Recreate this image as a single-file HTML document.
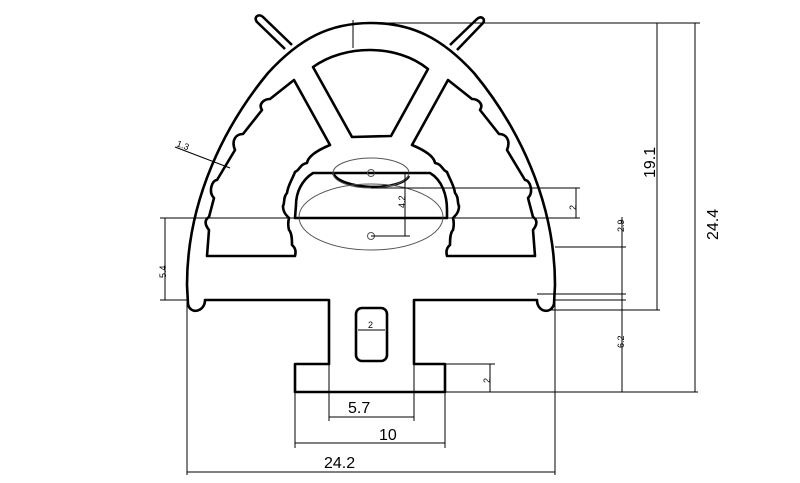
<!DOCTYPE html>
<html><head><meta charset="utf-8"><style>html,body{margin:0;padding:0;background:#fff}svg{display:block}</style></head>
<body>
<svg width="800" height="483" viewBox="0 0 800 483" xmlns="http://www.w3.org/2000/svg" font-family="Liberation Sans, sans-serif">
<g fill="none" stroke="#000" stroke-width="2.6" stroke-linejoin="round">
<path d="M205,300 C205,312 190,315 188,304 L187,285 C187,200 225,125 268,73 C300,38 330,23 371,23 C412,23 442,38 474,73 C517,125 555,200 555,285 L554,304 C551,315 537,312 537,300 L414,300 L414,364 L445,364 L445,392 L295,392 L295,364 L329,364 L329,300 Z"/>
<path d="M285,49 L257,22 C253,17 259,13 263,17 L292,45"/>
<path d="M450,45 L477,19 C481,15 486,19 483,23 L457,50"/>
<path d="M313,67 C345,44 397,44 428,69 L391,136 L352,137 Z"/>
<path d="M294,80 L330,145 C318,150 308,156 307,163 C300,164 300,170 295,172 C292,180 288,185 287,193 C283,197 285,203 283,206 C283,212 286,215 289,218 C288,222 288,226 289,230 C292,233 292,240 292,245 C296,248 296,252 295,256 L207,256 L209,230 C205,225 204,220 209,217 L214,198 C208,192 212,180 217,180 L235,150 C231,140 236,134 243,134 L262,110 C258,104 264,99 270,99 Z"/>
<path d="M448,80 L412,145 C424,150 434,156 435,163 C442,164 442,170 447,172 C450,180 454,185 455,193 C459,197 457,203 459,206 C459,212 456,215 453,218 C454,222 454,226 453,230 C450,233 450,240 450,245 C446,248 446,252 447,256 L535,256 L533,230 C537,225 538,220 533,217 L528,198 C534,192 530,180 525,180 L507,150 C511,140 506,134 499,134 L480,110 C484,104 478,99 472,99 Z"/>
<path d="M313,173 L430,173 C442,180 447,195 447,210 L447,218 L295,218 L296,205 C296,192 302,180 313,173 Z"/>
<rect x="356" y="308" width="31" height="53" rx="6"/>
<path d="M333,173 C340,190 400,192 409,176"/>
</g>
<g fill="none" stroke="#555" stroke-width="1">
<ellipse cx="371" cy="173" rx="38" ry="15"/>
<ellipse cx="371" cy="217" rx="72" ry="33"/>
<circle cx="371" cy="173" r="3.5"/>
<circle cx="371" cy="236" r="3.5"/>
</g>
<g stroke="#000" stroke-width="1" fill="none">
<line x1="371" y1="23" x2="700" y2="23"/>
<line x1="657" y1="23" x2="657" y2="310"/>
<line x1="695" y1="23" x2="695" y2="392"/>
<line x1="548" y1="310" x2="660" y2="310"/>
<line x1="445" y1="392" x2="698" y2="392"/>
<line x1="371" y1="188" x2="580" y2="188"/>
<line x1="576" y1="188" x2="576" y2="218"/>
<line x1="160" y1="218" x2="580" y2="218"/>
<line x1="622" y1="217" x2="622" y2="392"/>
<line x1="555" y1="247" x2="626" y2="247"/>
<line x1="537" y1="294" x2="626" y2="294"/>
<line x1="555" y1="300" x2="626" y2="300"/>
<line x1="165" y1="218" x2="165" y2="300"/>
<line x1="160" y1="300" x2="187" y2="300"/>
<line x1="445" y1="364" x2="495" y2="364"/>
<line x1="490" y1="364" x2="490" y2="392"/>
<line x1="405" y1="173" x2="405" y2="236"/>
<line x1="371" y1="173" x2="410" y2="173"/>
<line x1="371" y1="236" x2="410" y2="236"/>
<line x1="353" y1="20" x2="353" y2="48"/>
<line x1="175" y1="147" x2="230" y2="168"/>
<line x1="358" y1="330" x2="385" y2="330"/>
<line x1="187" y1="300" x2="187" y2="475"/>
<line x1="555" y1="300" x2="555" y2="475"/>
<line x1="295" y1="392" x2="295" y2="448"/>
<line x1="445" y1="392" x2="445" y2="448"/>
<line x1="329" y1="364" x2="329" y2="421"/>
<line x1="414" y1="364" x2="414" y2="421"/>
<line x1="329" y1="417" x2="414" y2="417"/>
<line x1="295" y1="443" x2="445" y2="443"/>
<line x1="187" y1="472" x2="555" y2="472"/>
</g>
<g font-size="16" fill="#000">
<text x="348" y="413">5.7</text>
<text x="379" y="440">10</text>
<text x="324" y="468">24.2</text>
<text transform="translate(655,178) rotate(-90)">19.1</text>
<text transform="translate(718,240) rotate(-90)">24.4</text>
</g>
<g font-size="9" fill="#000">
<text transform="translate(166,278) rotate(-90)">5.4</text>
<text transform="translate(405,208) rotate(-90)">4.2</text>
<text transform="translate(576,210) rotate(-90)">2</text>
<text transform="translate(624,232) rotate(-90)">2.9</text>
<text transform="translate(624,348) rotate(-90)">6.2</text>
<text transform="translate(490,383) rotate(-90)">2</text>
<text x="368" y="328">2</text>
<text transform="translate(176,146) rotate(20)">1.3</text>
</g>
</svg>
</body></html>
